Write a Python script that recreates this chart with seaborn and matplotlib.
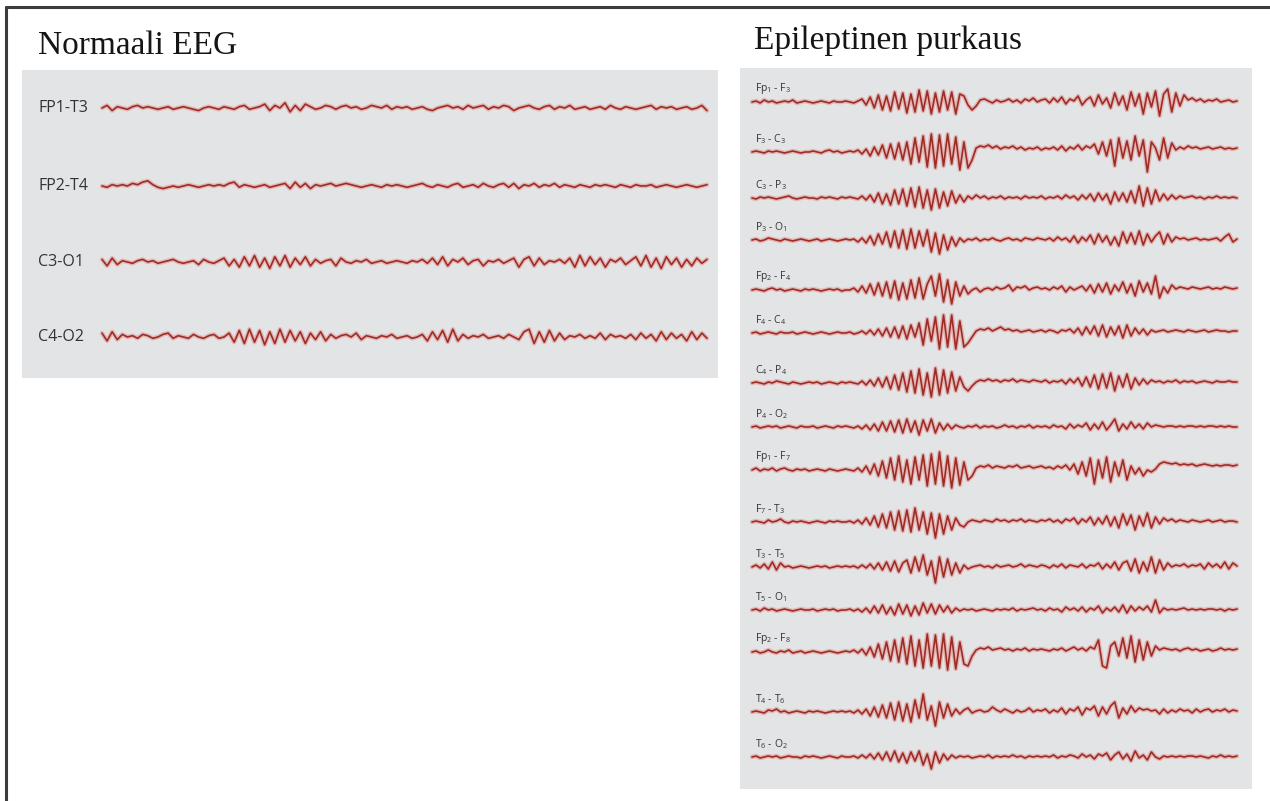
import matplotlib
matplotlib.use("Agg")
import matplotlib.pyplot as plt
from matplotlib.lines import Line2D
import numpy as np
import pandas as pd
import seaborn as sns

# Figure constants
W, H, DPI = 1270, 801, 100
BOX_COLOR = "#e2e4e6"
CORE_COLOR = "#9e2c26"
HALO_COLOR = "#e2625c"
LABEL_COLOR = "#333333"

# ---- Normal EEG (left panel), amplitude in px ----
normal_labels = ["FP1-T3", "FP2-T4", "C3-O1", "C4-O2"]
fp1_t3 = [0, 2, -2, 1, 0, -1, 1, 2, 0, 1, 0, -1, 0, 1, -1, 0, 1, 0, -1, -2, 0, 1, 0, -1,
          1, 0, -1, 1, 2, -1, 0, 1, 3, -2, 2, 0, 4, -3, 2, -2, 3, 1, -1, 0, 2, 1, -1, 1,
          2, 0, 1, -1, 0, 2, 1, 0, 2, -1, 1, 0, 1, -1, 0, 1, -1, -2, 0, 1, 2, 0, 1, -1,
          2, 0, 1, 2, -1, 1, 0, 2, 1, -2, 0, 1, 2, 0, -1, 1, 2, -1, 1, 0, 2, -1, 0, 1,
          -1, 0, 1, -1, 2, 0, -1, 1, 0, -1, 0, 1, 2, -1, 1, 0, 1, -1, 0, 1, -1, 0, 2, -2]
fp2_t4 = [0, -1, 1, 0, 1, 0, 2, 1, 3, 4, 1, -1, -2, -1, 0, -1, 0, 1, 0, -1, 0, 1, 0, 1,
          0, 2, 3, -1, 1, 0, -1, 0, 1, -1, 0, 1, 2, -2, 3, -1, 2, -2, 1, 0, 1, 2, 0, 1,
          2, 1, 0, -1, 0, 1, 0, -1, 1, 0, 1, 0, -1, 0, 1, 2, 0, -1, 1, 0, -1, 1, 2, -1,
          0, 1, -1, 2, 0, -1, 1, 2, -1, 2, -2, 1, 0, 2, -1, 1, 0, 2, -1, 1, 0, -1, 1, 0,
          -1, 1, 0, 1, 0, -1, 1, 0, -1, 1, 0, 0, 1, -1, 0, 1, 0, -1, 0, 1, 0, -1, 0, 1]
c3_o1 = [2, -3, 3, -2, 1, 0, -1, 1, 2, 0, 1, -1, 0, 1, 2, 0, -1, 0, 1, -2, 2, 0, -1, 1,
         3, -3, 2, -4, 4, -3, 5, -4, 3, -5, 4, -3, 5, -4, 3, -2, 4, -3, 2, -1, 1, 2, -3, 3,
         0, -1, 1, 0, 2, -1, 0, 1, -1, 0, 1, 0, -1, 1, 0, 2, -1, 3, -2, 4, -3, 2, 0, 3,
         -2, 1, 2, -3, 1, 0, 2, -1, 1, 3, -4, 2, 4, -3, 3, -2, 1, 0, 2, -1, 3, -4, 5, -3,
         4, -2, 3, -4, 2, 0, 3, -2, 1, 4, -3, 5, -4, 3, -5, 4, -2, 3, -4, 2, -3, 3, -1, 2]
c4_o2 = [3, -3, 4, -2, 2, 0, 1, -1, 2, 1, -1, 0, 2, 3, -1, 1, 0, -1, 2, 0, -1, 1, 2, -1,
         0, 3, -4, 5, -5, 6, -4, 5, -6, 4, -5, 6, -4, 5, -3, 4, -5, 3, -2, 4, -3, 2, -1, 1,
         2, 0, 3, -2, 1, 0, -1, 1, 0, 2, -1, 0, 1, -1, 0, 2, -3, 4, -2, 5, -4, 6, -3, 2,
         -1, 1, 0, 2, -1, 0, 1, -1, 2, 0, -2, 4, 6, -5, 4, -4, 5, -3, 3, -2, 1, 0, 2, -1,
         1, -1, 3, -2, 2, 0, 1, -1, 2, -2, 3, -1, 2, -3, 4, -2, 3, -1, 2, -3, 4, -2, 3, -1]
normal_traces = [fp1_t3, fp2_t4, c3_o1, c4_o2]

# ---- Epileptic discharge (right panel) ----
burst_labels = [
    r"Fp$_\mathregular{1}$ - F$_\mathregular{3}$",
    r"F$_\mathregular{3}$ - C$_\mathregular{3}$",
    r"C$_\mathregular{3}$ - P$_\mathregular{3}$",
    r"P$_\mathregular{3}$ - O$_\mathregular{1}$",
    r"Fp$_\mathregular{2}$ - F$_\mathregular{4}$",
    r"F$_\mathregular{4}$ - C$_\mathregular{4}$",
    r"C$_\mathregular{4}$ - P$_\mathregular{4}$",
    r"P$_\mathregular{4}$ - O$_\mathregular{2}$",
    r"Fp$_\mathregular{1}$ - F$_\mathregular{7}$",
    r"F$_\mathregular{7}$ - T$_\mathregular{3}$",
    r"T$_\mathregular{3}$ - T$_\mathregular{5}$",
    r"T$_\mathregular{5}$ - O$_\mathregular{1}$",
    r"Fp$_\mathregular{2}$ - F$_\mathregular{8}$",
    r"T$_\mathregular{4}$ - T$_\mathregular{6}$",
    r"T$_\mathregular{6}$ - O$_\mathregular{2}$",
]
fp1_f3 = [0, 1, -1, 2, 0, 1, -1, 0, 1, 0, 2, -1, 0, 1, 0, -1, 0, 1, 0, -1, 1, 0, 0, 1,
          0, -1, 1, 3, -3, 5, -6, 7, -8, 6, -9, 10, -7, 9, -11, 8, -10, 12, -9, 11, -12, 9, -10, 11,
          -8, 10, -12, 8, 6, -3, -8, -4, 2, 3, 1, -1, 2, 0, 1, 3, 0, 2, -1, 3, 1, 4, 0, 2,
          3, -1, 4, 0, 5, -2, 3, 1, 6, -3, 2, 5, -4, 7, -2, 4, -6, 9, -3, 6, -8, 10, -4, 8,
          -12, 9, -5, 11, -14, 8, 13, -10, 9, -4, 7, 2, 4, 1, 3, 0, 2, 1, 3, 0, 1, 2, 0, 1]
f3_c3 = [0, 1, 0, -1, 1, 0, 1, 0, -1, 0, 1, 0, -1, 0, 0, 1, 0, -1, 1, 2, 0, 1, -1, 0,
         1, 0, 2, -2, 3, -4, 5, -3, 7, -6, 8, -7, 9, -8, 10, -12, 14, -10, 16, -15, 18, -16, 17, -14,
         18, -12, 15, -18, 10, -16, -8, 4, 6, 5, 7, 4, 6, 3, 5, 4, 6, 3, 5, 2, 4, 3, 5, 2,
         4, 3, 5, 2, 6, 1, 5, 3, 7, 2, 6, 4, 8, -2, 10, -4, 12, -14, 14, -6, 11, -8, 16, -4,
         12, -20, 10, 4, -8, 14, -6, 9, 2, 5, 3, 6, 4, 5, 3, 4, 5, 3, 4, 5, 3, 4, 3, 4]
c3_p3 = [0, -1, 1, 0, 1, 0, -1, 0, 1, 2, 0, -1, 0, 1, 0, 0, -1, 1, 0, 1, 0, -1, 1, 0,
         1, 0, -1, 2, -2, 3, -4, 5, -6, 4, -7, 8, -6, 9, -8, 10, -9, 11, -10, 8, -12, 9, -10, 6,
         -8, 7, -5, 3, -4, 2, -1, 3, 0, 2, -1, 1, 0, 2, -1, 1, 0, 1, -1, 2, 0, 1, 0, 2,
         -1, 1, 0, 2, -1, 3, 0, 2, -2, 3, -1, 4, -3, 5, -2, 4, -6, 6, -3, 5, -4, 7, -5, 12,
         -8, 10, -6, 8, -3, 4, -2, 3, -1, 2, 0, 1, 2, 0, 1, -1, 1, 0, 2, 0, 1, 0, 1, 0]
p3_o1 = [0, 1, -1, 0, 2, 1, 0, -1, 1, 0, -1, 0, 1, 0, -1, 0, 1, -1, 0, 1, 0, -1, 0, 1,
         0, 1, -2, 2, -3, 4, -5, 6, -4, 8, -7, 9, -8, 10, -9, 11, -8, 9, -6, 10, -12, 7, -14, 5,
         -10, 3, -6, 2, -2, 1, 0, 2, -1, 1, 0, 2, 0, -1, 1, 2, 0, 1, -1, 2, 1, 0, 2, 1,
         0, 2, -1, 3, 0, 2, -2, 4, -3, 3, -1, 5, -4, 6, -2, 4, -5, 3, -6, 8, -3, 7, -4, 9,
         -5, 6, -2, 4, 8, -4, 6, -2, 3, 1, 2, 0, 1, 2, 0, 1, 0, 1, 2, -1, 3, 6, -2, 1]
fp2_f4 = [0, 1, 0, -1, 1, 2, 0, 1, -1, 0, 1, 0, -1, 1, 0, 1, 0, -1, 0, 1, 0, 1, -1, 0,
          0, 2, -2, 4, -3, 6, -5, 7, -6, 8, -8, 9, -10, 7, -9, 10, -8, 12, -9, 6, 14, -6, 16, -12,
          10, -14, 8, -6, 4, -4, 0, 2, -2, 1, 2, 0, 3, 1, 2, 5, -1, 3, 2, 4, 0, 2, 3, 1,
          2, 0, 3, 1, 4, -2, 3, 0, 2, 4, -1, 5, -3, 6, -2, 7, -4, 5, -1, 8, -3, 6, -6, 9,
          -2, 7, -4, 14, -8, 3, -3, 5, 1, 3, 2, 1, 3, 2, 1, 2, 3, 1, 2, 1, 3, 2, 1, 2]
f4_c4 = [0, 1, -1, 0, 1, 0, -1, 1, 0, 0, 1, -1, 0, 1, 0, -1, 0, 1, 0, -1, 0, 1, 0, 0,
         1, -1, 0, 2, -1, 3, -2, 4, -3, 5, -4, 6, -5, 7, -6, 8, -4, 10, -12, 14, -8, 16, -16, 18,
         -14, 18, -16, 12, -14, -10, -4, 2, 4, 3, 5, 2, 4, 6, 3, 4, 2, 3, 1, 2, 3, 1, 2, 3,
         1, 3, 2, 0, 3, 2, 4, 0, 5, -2, 6, -1, 7, -3, 8, -4, 6, -2, 7, -5, 8, -3, 5, -1,
         4, -2, 3, 1, 2, 3, 1, 2, 3, 2, 1, 3, 2, 1, 2, 3, 1, 2, 3, 2, 2, 1, 2, 2]
c4_p4 = [0, 1, 0, -1, 1, 0, 2, 1, 0, -1, 1, 0, -1, 0, 1, 0, 1, -1, 0, 1, 0, -1, 1, 0,
         1, 0, -1, 2, -2, 3, -3, 5, -4, 6, -6, 8, -7, 10, -9, 12, -10, 14, -12, 10, -14, 15, -12, 13,
         -10, 11, -8, 6, -4, -8, -3, 1, 3, 2, 4, 2, 3, 1, 3, 2, 4, 1, 3, 2, 1, 3, 2, 1,
         3, 0, 2, 1, 3, -1, 4, 0, 5, -3, 6, -4, 8, -6, 9, -5, 10, -8, 7, -4, 9, -6, 5, -2,
         4, -1, 3, 1, 2, 0, 2, 1, 3, 0, 2, 1, 2, 0, 1, 2, 1, 0, 2, 1, 1, 2, 1, 1]
p4_o2 = [0, 1, -1, 0, 1, 0, 1, -1, 0, 1, 0, -1, 1, 0, 0, 1, -1, 0, 1, 0, -1, 1, 0, 1,
         0, -1, 1, -2, 2, -3, 3, -4, 5, -4, 6, -5, 7, -6, 8, -5, 6, -8, 7, -4, 8, -6, 4, -3,
         3, -2, 2, 0, -1, 1, 0, 2, -1, 1, 0, 1, -1, 0, 2, 0, 1, -1, 1, 0, 2, -1, 1, 0,
         1, -1, 2, 0, 1, -2, 3, -1, 2, 0, 4, -3, 3, -2, 5, -3, 2, 8, -4, 3, -2, 5, -1, 3,
         -2, 4, 0, 2, 1, 0, 1, 1, 0, 1, 0, 1, 1, 0, 1, 0, 1, 1, 0, 1, 0, 1, 0, 0]
fp1_f7 = [0, 2, -1, 1, 0, 2, -1, 1, 2, 0, -1, 1, 0, 1, -1, 0, 1, 0, -1, 1, 0, -1, 0, 1,
          0, -1, 2, -2, 4, -4, 6, -6, 9, -8, 12, -10, 14, -12, 10, -14, 13, -10, 15, -16, 16, -14, 18, -16,
          14, -18, 12, -15, 8, -10, -6, 2, 4, 3, 5, 2, 4, 3, 2, 4, 3, 5, 2, 3, 4, 2, 3, 4,
          2, 3, 1, 4, 2, 5, 0, 6, -4, 8, -6, 12, -14, 10, -8, 13, -12, 8, -6, 10, -10, 4, -4, 2,
          -6, 0, -2, 1, 6, 8, 7, 6, 7, 5, 6, 5, 6, 4, 5, 6, 5, 4, 5, 4, 5, 5, 4, 5]
f7_t3 = [0, 1, 0, -1, 2, 0, 1, 3, 0, -1, 1, 0, 1, 0, -1, 0, 1, 0, -1, 1, 0, 1, 0, 0,
         1, -1, 2, -2, 4, -3, 6, -5, 8, -6, 10, -8, 11, -9, 12, -10, 14, -8, 10, -12, 9, -16, 8, -12,
         6, -8, 4, -3, -5, 0, 2, 1, 0, 2, 1, 0, 3, 1, 2, 0, 2, 1, 3, 0, 2, 1, 0, 2,
         1, 3, 0, 2, -1, 3, 1, 4, -2, 3, 0, 5, -3, 4, -2, 6, -4, 5, -6, 8, -3, 7, -8, 6,
         -4, 9, -6, 5, -2, 4, 1, 3, 0, 2, 1, 0, 2, 1, 0, 1, 2, 0, 1, 2, 0, 1, 1, 0]
t3_t5 = [0, 2, -1, 3, -2, 5, -3, 4, 0, 1, -1, 0, 1, 0, -1, 0, 1, 0, 1, -1, 0, 1, 0, 1,
         0, 1, -1, 2, -1, 3, -2, 4, -3, 5, -4, 6, -5, 4, 7, -6, 10, -4, 12, -8, 6, -16, 10, -10,
         8, -8, 4, -6, 2, -2, 0, 1, 2, 0, 1, -1, 2, 0, 1, 2, 0, 1, 3, 0, 2, 1, 0, 2,
         1, -1, 2, 0, 3, -1, 2, 1, 0, 3, -1, 2, 1, 4, -2, 3, -1, 5, -3, 4, 6, -4, 8, -6,
         5, -4, 10, -6, 7, -3, 4, 0, 2, 1, 3, 0, 2, 1, 3, -2, 4, 0, 3, -1, 5, -2, 4, 1]
t5_o1 = [0, 1, -1, 2, 0, 1, -1, 0, 1, 0, -1, 0, 1, 0, 0, 1, -1, 0, 1, 0, 1, -1, 0, 0,
         1, -1, 1, -2, 2, -3, 4, -3, 5, -4, 3, -5, 6, -4, 5, -6, 4, -5, 7, -3, 6, -4, 5, -2,
         4, -3, 2, -1, 1, 0, 1, -1, 0, 1, 0, -1, 1, 0, 1, 0, 2, -1, 1, 0, 1, 2, 0, 1,
         -1, 2, 0, 1, -2, 3, 0, 2, -1, 3, -2, 2, 0, 4, -3, 2, -1, 3, -2, 5, -3, 4, -1, 3,
         0, 4, -2, 10, -3, 2, 0, 1, 0, 1, 2, 0, 1, 0, 1, 0, 1, 1, 0, 1, -1, 1, 0, 1]
fp2_f8 = [0, 1, -1, 0, 2, 0, -1, 1, 0, 2, -1, 0, 1, -1, 0, 1, 0, -1, 0, 1, 0, -1, 0, 1,
          0, 2, -1, 3, -3, 5, -5, 8, -7, 10, -9, 12, -10, 14, -12, 16, -14, 12, -16, 18, -14, 17, -16, 18,
          -18, 15, -17, 10, -12, -14, -4, 2, 4, 3, 5, 2, 3, 4, 2, 3, 1, 3, 2, 4, 1, 3, 2, 3,
          2, 1, 3, 2, 4, 1, 3, 5, 2, 4, 1, 5, 3, 12, -14, -16, 6, 10, -4, 14, -6, 16, -10, 12,
          -8, 10, -4, 6, 2, 4, 3, 2, 3, 1, 3, 4, 2, 3, 1, 2, 3, 1, 2, 4, 2, 3, 2, 3]
t4_t6 = [0, 1, 0, -1, 2, 1, 3, 0, 1, -1, 0, 1, 0, -1, 1, 0, 1, 0, -1, 0, 1, 0, 1, 0,
         1, -1, 2, -2, 3, -4, 5, -5, 7, -6, 9, -8, 10, -9, 8, -10, 12, -6, 18, -8, 6, -14, 10, -6,
         8, -4, 3, -2, 2, 4, -1, 1, 2, 0, 1, 5, 2, 0, 3, 1, -1, 2, 0, 1, 4, 0, 2, 1,
         3, -1, 2, 0, 4, -2, 3, 1, 5, -3, 4, 2, 6, -4, 5, -2, 6, 10, -6, 4, -2, 6, 0, 4,
         2, 3, 1, 2, -2, 3, -1, 2, 0, 3, 1, 2, -1, 3, 0, 2, 3, 0, 2, 1, 3, 0, 2, 1]
t6_o2 = [0, 1, -1, 0, 1, 0, 1, -1, 0, 1, 0, 0, -1, 1, 0, 1, 0, -1, 0, 1, 0, -1, 1, 0,
         0, 1, -1, 2, -1, 3, -2, 4, -3, 5, -4, 6, -5, 4, -6, 5, -4, 6, -8, 3, -12, 5, -6, 3,
         -3, 2, -1, 1, 0, 1, -1, 0, 1, 0, 2, -1, 1, 0, 1, 0, 2, 0, 1, -1, 1, 0, 1, 0,
         1, 0, 2, -1, 1, 0, 2, 1, -1, 3, 0, 2, -2, 3, 1, 4, -3, 2, 5, -2, 3, -4, 6, -1,
         2, -3, 5, 0, -2, 1, 0, 1, 0, 1, 0, 1, 1, 0, 1, 0, -1, 1, 0, 2, 0, 1, 0, 1]
burst_traces = [fp1_f3, f3_c3, c3_p3, p3_o1, fp2_f4, f4_c4, c4_p4, p4_o2,
                fp1_f7, f7_t3, t3_t5, t5_o1, fp2_f8, t4_t6, t6_o2]

# ---- Layout (figure pixels) ----
LEFT_BOX = (22, 70, 718, 378)      # left, top, right, bottom
RIGHT_BOX = (740, 68, 1252, 789)
LEFT_TRACE_X = (102, 707)
RIGHT_TRACE_X = (752, 1237)
LEFT_ROWS = [108, 186, 262, 337]
RIGHT_ROWS = [102, 152, 198, 240, 290, 333, 383, 427, 470, 522, 567, 610, 652, 712, 757]


def add_panel(fig, box):
    l, t, r, b = box
    ax = fig.add_axes([l / W, 1 - b / H, (r - l) / W, (b - t) / H])
    ax.set_facecolor(BOX_COLOR)
    for s in ax.spines.values():
        s.set_visible(False)
    return ax


def draw_trace(ax, values, x_span, base, scale):
    x = np.linspace(x_span[0], x_span[1], len(values))
    df = pd.DataFrame({"x": x, "y": base - scale * np.asarray(values, dtype=float)})
    sns.lineplot(data=df, x="x", y="y", ax=ax, color=HALO_COLOR, linewidth=3.2,
                 alpha=0.35, estimator=None, sort=False)
    sns.lineplot(data=df, x="x", y="y", ax=ax, color=CORE_COLOR, linewidth=1.2,
                 estimator=None, sort=False)


def finish_panel(ax, box):
    l, t, r, b = box
    ax.set_xlim(l, r)
    ax.set_ylim(b, t)
    ax.set_xticks([])
    ax.set_yticks([])
    ax.set_xlabel("")
    ax.set_ylabel("")


sns.set_style("white")
plt.rcParams["font.family"] = ["Open Sans", "DejaVu Sans"]
plt.rcParams["mathtext.fontset"] = "custom"
plt.rcParams["mathtext.rm"] = "Open Sans"
plt.rcParams["mathtext.it"] = "Open Sans"

fig = plt.figure(figsize=(W / DPI, H / DPI), dpi=DPI)
fig.patch.set_facecolor("white")

# page frame (left and top edge)
fig.add_artist(Line2D([6 / W, 6 / W], [0, 1 - 7 / H], color="#3c3c3c", lw=2.2))
fig.add_artist(Line2D([6 / W, 1], [1 - 7 / H, 1 - 7 / H], color="#3c3c3c", lw=2.2))

# titles
fig.text(38 / W, 1 - 54 / H, "Normaali EEG", family="Liberation Serif",
         fontsize=24, color="#151515", va="baseline", ha="left")
fig.text(754 / W, 1 - 49 / H, "Epileptinen purkaus", family="Liberation Serif",
         fontsize=24, color="#151515", va="baseline", ha="left")

# left panel
ax_l = add_panel(fig, LEFT_BOX)
for label, vals, row in zip(normal_labels, normal_traces, LEFT_ROWS):
    draw_trace(ax_l, vals, LEFT_TRACE_X, row, 1.3)
    ax_l.text(38, row, label, fontsize=11.5, color=LABEL_COLOR, va="center", ha="left")
finish_panel(ax_l, LEFT_BOX)

# right panel
ax_r = add_panel(fig, RIGHT_BOX)
for label, vals, row in zip(burst_labels, burst_traces, RIGHT_ROWS):
    draw_trace(ax_r, vals, RIGHT_TRACE_X, row, 1.0)
    ax_r.text(755, row - 13, label, fontsize=7.5, color=LABEL_COLOR, va="center", ha="left")
finish_panel(ax_r, RIGHT_BOX)

fig.savefig("out.png", dpi=DPI, facecolor="white")
